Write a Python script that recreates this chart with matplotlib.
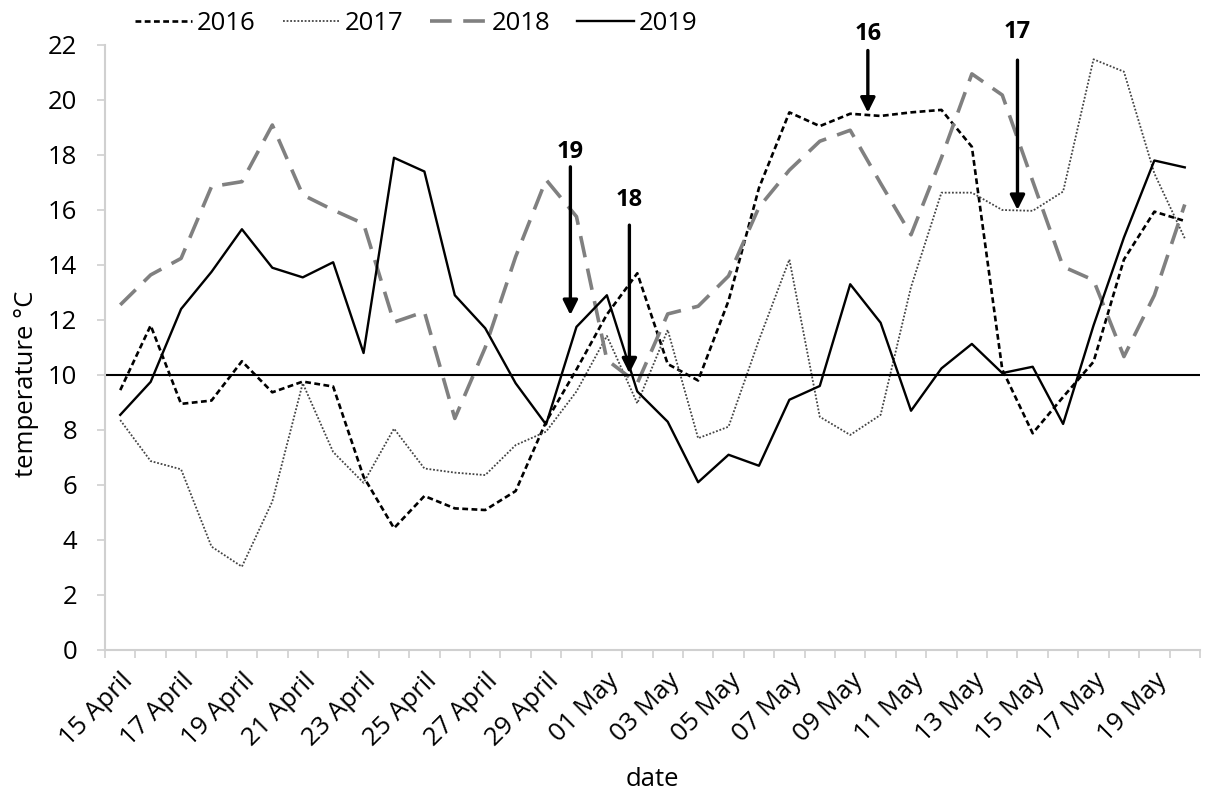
import pandas as pd
import matplotlib.pyplot as plt
from matplotlib.ticker import FixedLocator

plt.rcParams['font.family'] = ['Open Sans', 'DejaVu Sans']

# Daily mean temperatures, 15 April - 20 May
dates = pd.date_range('2019-04-15', '2019-05-20', freq='D')
date_labels = [d.strftime('%d %B') for d in dates]

t2016 = [9.45, 11.8, 8.95, 9.07, 10.5, 9.37, 9.76, 9.58, 6.3, 4.43,
         5.6, 5.15, 5.09, 5.78, 8.3, 10.2, 12.2, 13.7, 10.4, 9.8,
         12.7, 16.8, 19.55, 19.05, 19.5, 19.42, 19.55, 19.64, 18.3, 10.2,
         7.88, 9.2, 10.48, 14.2, 15.94, 15.6]
t2017 = [8.36, 6.87, 6.57, 3.76, 3.03, 5.4, 9.7, 7.2, 6.08, 8.05,
         6.6, 6.45, 6.36, 7.45, 7.94, 9.4, 11.42, 8.97, 11.64, 7.7,
         8.12, 11.27, 14.2, 8.48, 7.82, 8.55, 13.2, 16.63, 16.63, 16.0,
         15.97, 16.67, 21.48, 21.03, 17.33, 14.97]
t2018 = [12.55, 13.64, 14.24, 16.85, 17.03, 19.09, 16.55, 16.0, 15.5, 11.92,
         12.3, 8.42, 11.0, 14.3, 17.1, 15.76, 10.55, 9.7, 12.22, 12.5,
         13.6, 16.1, 17.45, 18.5, 18.9, 16.97, 15.1, 17.9, 20.95, 20.18,
         17.05, 13.94, 13.45, 10.67, 12.9, 16.2]
t2019 = [8.55, 9.75, 12.4, 13.75, 15.3, 13.9, 13.55, 14.1, 10.8, 17.9,
         17.4, 12.9, 11.7, 9.7, 8.2, 11.75, 12.9, 9.4, 8.3, 6.1,
         7.1, 6.7, 9.1, 9.6, 13.3, 11.9, 8.7, 10.24, 11.13, 10.07,
         10.3, 8.22, 11.8, 15.0, 17.8, 17.55]

threshold = 10

# arrows: label, position (day index), arrow start and tip values
arrow_labels = ['19', '18', '16', '17']
arrow_pos = [14.8, 16.74, 24.58, 29.5]
arrow_top = [17.57, 15.45, 21.8, 21.45]
arrow_tip = [12.18, 10.06, 19.54, 16.0]
label_y = [18.12, 16.36, 22.4, 22.46]

x = list(range(len(dates)))

fig = plt.figure(figsize=(12.06, 7.95), dpi=100)
ax = fig.add_axes([0.0871, 0.1824, 0.9079, 0.761])

l16, = ax.plot(x, t2016, color='black', lw=1.9, linestyle=(0, (2.2, 1.3)), label='2016')
l17, = ax.plot(x, t2017, color='#444444', lw=1.3, linestyle=(0, (1, 1)), label='2017')
l18, = ax.plot(x, t2018, color='#808080', lw=2.6, linestyle=(0, (6, 3.2)), label='2018')
l19, = ax.plot(x, t2019, color='black', lw=1.7, label='2019')
ax.axhline(threshold, color='black', lw=1.5)

for lab, xp, y0, y1, yl in zip(arrow_labels, arrow_pos, arrow_top, arrow_tip, label_y):
    ax.annotate('', xy=(xp, y1), xytext=(xp, y0),
                arrowprops=dict(arrowstyle='-|>', color='black', lw=2.4,
                                mutation_scale=22, shrinkA=0, shrinkB=0))
    ax.text(xp, yl, lab, ha='center', va='center', fontsize=17,
            fontweight='bold', clip_on=False)

ax.set_xlim(-0.5, len(dates) - 0.5)
ax.set_ylim(0, 22)
ax.set_yticks(range(0, 23, 2))

ax.set_xticks(x[::2])
ax.set_xticklabels(date_labels[::2], rotation=45, ha='right', va='top',
                   rotation_mode='anchor', fontsize=18.5)
ax.xaxis.set_minor_locator(FixedLocator([i - 0.5 for i in range(len(dates) + 1)]))
ax.tick_params(axis='x', which='major', length=0, pad=13)
ax.tick_params(axis='x', which='minor', length=6, width=1.2, color='#d0d0d0')
ax.tick_params(axis='y', length=6, width=1.2, color='#d0d0d0', labelsize=18.5, pad=14)

for side in ['top', 'right']:
    ax.spines[side].set_visible(False)
for side in ['left', 'bottom']:
    ax.spines[side].set_color('#d0d0d0')
    ax.spines[side].set_linewidth(1.5)

ax.set_xlabel('date', fontsize=18.5, labelpad=12)
ax.set_ylabel('temperature °C', fontsize=18.5)
ax.yaxis.set_label_coords(-0.06, 0.44)

fig.legend(handles=[l16, l17, l18, l19], loc='upper left',
           bbox_to_anchor=(0.093, 1.015), ncol=4, frameon=False, fontsize=18.5,
           handlelength=2.2, handletextpad=0.2, columnspacing=1.05)

fig.savefig('out.png', dpi=100)
